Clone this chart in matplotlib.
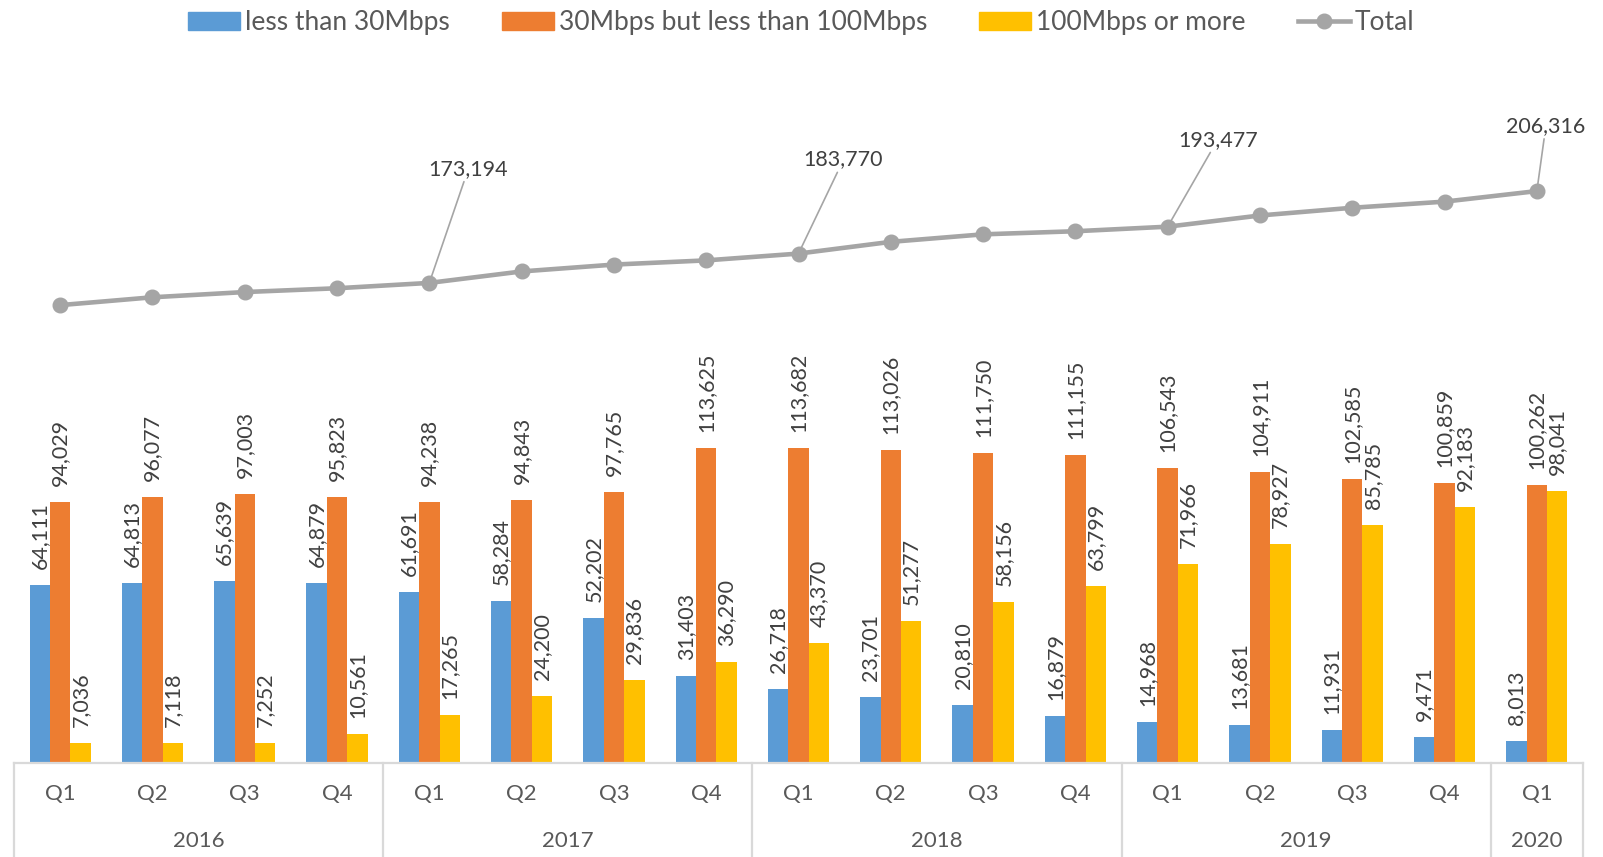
import matplotlib
matplotlib.use('Agg')
import matplotlib.pyplot as plt
import matplotlib.transforms as mtransforms
from matplotlib.patches import Patch
from matplotlib.lines import Line2D
import numpy as np

plt.rcParams['font.family'] = ['Lato', 'DejaVu Sans']

# Data
quarters = ['Q1', 'Q2', 'Q3', 'Q4'] * 4 + ['Q1']
years = ['2016', '2017', '2018', '2019', '2020']
year_sizes = [4, 4, 4, 4, 1]

below_30 = [64111, 64813, 65639, 64879, 61691, 58284, 52202, 31403, 26718,
            23701, 20810, 16879, 14968, 13681, 11931, 9471, 8013]
mid_30_100 = [94029, 96077, 97003, 95823, 94238, 94843, 97765, 113625, 113682,
              113026, 111750, 111155, 106543, 104911, 102585, 100859, 100262]
over_100 = [7036, 7118, 7252, 10561, 17265, 24200, 29836, 36290, 43370,
            51277, 58156, 63799, 71966, 78927, 85785, 92183, 98041]
total = [165176, 168008, 169894, 171263, 173194, 177327, 179803, 181318, 183770,
         188004, 190716, 191833, 193477, 197519, 200301, 202513, 206316]
# only some total points carry a label: (index, x offset px, y offset px)
total_labels = [(4, 39, 104), (8, 45, 84), (12, 50, 77), (16, 9, 55)]

series = ['less than 30Mbps', '30Mbps but less than 100Mbps', '100Mbps or more']
colors = ['#5B9BD5', '#ED7D31', '#FFC000']
line_color = '#A5A5A5'
label_color = '#404040'
axis_text = '#595959'
grid_grey = '#D9D9D9'

W, H = 1603, 857
fig = plt.figure(figsize=(W / 100, H / 100), dpi=100)
ax = fig.add_axes([14 / W, 1 - 763 / H, (1583 - 14) / W, (763 - 70) / H])

x = np.arange(len(quarters))
w = 0.221
for k, (vals, c) in enumerate(zip([below_30, mid_30_100, over_100], colors)):
    xs = x + (k - 1) * w
    ax.bar(xs, vals, width=w, color=c, zorder=2)
    for xi, v in zip(xs, vals):
        ax.annotate(f'{v:,}', (xi, v), xytext=(0, 16), textcoords='offset pixels',
                    rotation=90, ha='center', va='bottom', fontsize=15.5,
                    color=label_color)

ax.plot(x, total, color=line_color, lw=3.3, marker='o', markersize=10.5, zorder=3)
for i, dx, dy in total_labels:
    ax.annotate(f'{total[i]:,}', (x[i], total[i]), xytext=(dx, dy),
                textcoords='offset pixels', ha='center', va='bottom',
                fontsize=15.5, color=label_color,
                arrowprops=dict(arrowstyle='-', color=line_color, lw=1.2,
                                shrinkA=0, shrinkB=3))

ax.set_xlim(-0.5, len(quarters) - 0.5)
ax.set_ylim(0, 250000)
ax.set_yticks([])
ax.set_xticks([])
for s in ['left', 'right', 'top']:
    ax.spines[s].set_visible(False)
ax.spines['bottom'].set_color(grid_grey)
ax.spines['bottom'].set_linewidth(1.6)

# two-level category axis
trans = mtransforms.blended_transform_factory(ax.transData, fig.transFigure)
for xi, q in zip(x, quarters):
    fig.text(xi, 1 - 794 / H, q, transform=trans, ha='center', va='center',
             fontsize=16, color=axis_text)
start = 0
edges = [-0.5]
for yr, n in zip(years, year_sizes):
    fig.text(start + (n - 1) / 2, 1 - 841 / H, yr, transform=trans, ha='center',
             va='center', fontsize=16, color=axis_text)
    start += n
    edges.append(start - 0.5)
for e in edges:
    fig.add_artist(Line2D([e, e], [1 - 763 / H, 0], transform=trans,
                          color=grid_grey, lw=1.6))

handles = [Patch(color=c) for c in colors] + \
          [Line2D([], [], color=line_color, lw=3.3, marker='o', markersize=10.5)]
fig.legend(handles, series + ['Total'], loc='upper center',
           bbox_to_anchor=(0.5, 1.016), ncol=4, frameon=False, fontsize=19,
           labelcolor=axis_text, handlelength=1.97, handleheight=0.65,
           handletextpad=0.19, columnspacing=1.97)

fig.savefig('out.png', dpi=100)
